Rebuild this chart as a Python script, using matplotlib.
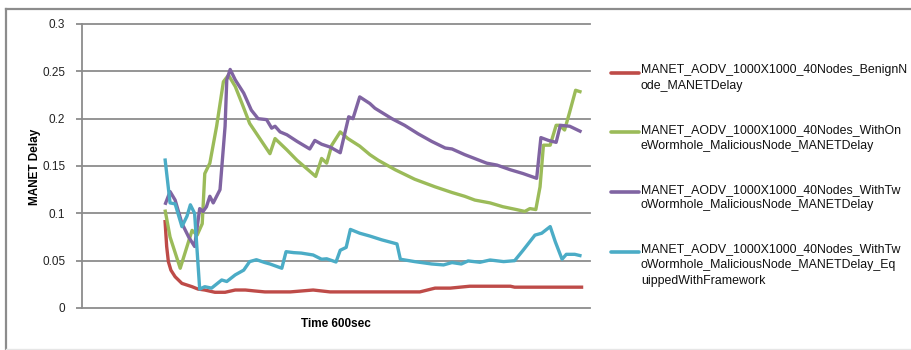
import matplotlib
matplotlib.use('Agg')
import matplotlib.pyplot as plt
from matplotlib.lines import Line2D

plt.rcParams['font.family'] = ['Liberation Sans', 'DejaVu Sans']

# simulation time (sec) and end-to-end delay for each scenario
t_benign = [98, 100, 102, 105, 110, 118, 130, 137, 145, 157, 169, 181, 193, 204, 216,
            246, 273, 293, 328, 376, 399, 417, 435, 458, 494, 506, 511, 529, 592]
d_benign = [0.093, 0.065, 0.049, 0.040, 0.033, 0.026, 0.0225, 0.020, 0.019, 0.0166, 0.0166,
            0.019, 0.019, 0.018, 0.017, 0.017, 0.019, 0.017, 0.017, 0.017, 0.017, 0.021,
            0.021, 0.023, 0.023, 0.023, 0.022, 0.022, 0.022]

t_one = [98, 104, 116, 130, 136, 142, 145, 151, 159, 167, 173, 181, 189, 198, 216, 222,
         228, 242, 254, 267, 276, 283, 289, 295, 305, 314, 328, 340, 350, 370, 393, 417,
         437, 452, 464, 482, 497, 513, 523, 529, 536, 541, 545, 553, 560, 564, 570, 576,
         583, 590]
d_one = [0.104, 0.075, 0.042, 0.082, 0.077, 0.089, 0.142, 0.153, 0.192, 0.239, 0.246,
         0.234, 0.216, 0.195, 0.171, 0.163, 0.179, 0.167, 0.156, 0.146, 0.139, 0.158,
         0.153, 0.172, 0.186, 0.179, 0.171, 0.162, 0.156, 0.146, 0.136, 0.128, 0.122,
         0.118, 0.114, 0.111, 0.107, 0.104, 0.102, 0.105, 0.104, 0.128, 0.172, 0.172,
         0.193, 0.193, 0.188, 0.207, 0.230, 0.228]

t_two = [98, 104, 110, 118, 126, 133, 139, 143, 147, 151, 155, 163, 169, 171, 175, 181,
         191, 200, 208, 218, 224, 228, 234, 242, 254, 269, 275, 283, 293, 305, 315, 320,
         328, 340, 346, 366, 381, 397, 413, 429, 437, 452, 478, 490, 506, 521, 537, 542,
         551, 560, 565, 576, 590]
d_two = [0.109, 0.123, 0.114, 0.0895, 0.075, 0.065, 0.105, 0.102, 0.107, 0.118, 0.111,
         0.125, 0.192, 0.241, 0.252, 0.241, 0.227, 0.209, 0.200, 0.199, 0.190, 0.192,
         0.186, 0.183, 0.176, 0.168, 0.177, 0.173, 0.170, 0.164, 0.202, 0.200, 0.223,
         0.216, 0.211, 0.200, 0.193, 0.184, 0.176, 0.169, 0.168, 0.162, 0.153, 0.151,
         0.146, 0.142, 0.137, 0.180, 0.177, 0.175, 0.193, 0.192, 0.186]

t_frame = [98, 104, 110, 118, 124, 128, 133, 139, 145, 153, 165, 171, 181, 191, 198, 206,
           216, 222, 236, 241, 250, 259, 273, 283, 289, 300, 305, 312, 317, 328, 340, 354,
           372, 376, 393, 413, 427, 437, 448, 456, 470, 482, 498, 511, 521, 535, 543, 553,
           559, 567, 572, 582, 590]
d_frame = [0.158, 0.111, 0.110, 0.086, 0.097, 0.109, 0.100, 0.020, 0.0225, 0.021, 0.0296,
           0.028, 0.035, 0.040, 0.049, 0.051, 0.048, 0.0465, 0.042, 0.0595, 0.0585, 0.058,
           0.056, 0.0515, 0.052, 0.0486, 0.061, 0.064, 0.083, 0.079, 0.076, 0.072, 0.0677,
           0.0515, 0.049, 0.0465, 0.0455, 0.048, 0.0465, 0.0497, 0.0483, 0.0507, 0.049,
           0.050, 0.061, 0.077, 0.079, 0.086, 0.070, 0.0515, 0.0567, 0.0567, 0.055]

labels = ['MANET_AODV_1000X1000_40Nodes_BenignN\node_MANETDelay',
          'MANET_AODV_1000X1000_40Nodes_WithOn\neWormhole_MaliciousNode_MANETDelay',
          'MANET_AODV_1000X1000_40Nodes_WithTw\noWormhole_MaliciousNode_MANETDelay',
          'MANET_AODV_1000X1000_40Nodes_WithTw\noWormhole_MaliciousNode_MANETDelay_Eq\nuippedWithFramework']
colors = ['#BE4B48', '#9BBB59', '#8064A2', '#4BACC6']
yticks = [0, 0.05, 0.1, 0.15, 0.2, 0.25, 0.3]

W, H = 912, 350
fig = plt.figure(figsize=(W / 100, H / 100), dpi=100)
ax = fig.add_axes([82 / W, 1 - 308 / H, (590 - 82) / W, (308 - 24) / H])

series = [(t_benign, d_benign), (t_one, d_one), (t_two, d_two), (t_frame, d_frame)]
for (t, d), c in zip(series, colors):
    ax.plot(t, d, color=c, lw=2.4, solid_joinstyle='round', solid_capstyle='butt', zorder=3)

ax.set_xlim(0, 600)
ax.set_ylim(0, 0.3)
ax.set_yticks(yticks)
ax.set_yticklabels(['0', '0.05', '0.1', '0.15', '0.2', '0.25', '0.3'])
ax.set_xticks([])
for y in yticks:
    ax.axhline(y, color='#8c8c8c', lw=1.3, zorder=1, clip_on=False)
for s in ['top', 'right', 'bottom']:
    ax.spines[s].set_visible(False)
ax.spines['left'].set_color('#8c8c8c')
ax.spines['left'].set_linewidth(1.3)
ax.tick_params(axis='y', length=4, width=1.3, color='#8c8c8c', pad=8,
               labelsize=8.5, labelcolor='#222222')

fig.text(336 / W, 1 - 324 / H, 'Time 600sec', ha='center', va='center',
         fontsize=8.5, fontweight='bold')
fig.text(35 / W, 1 - 167 / H, 'MANET Delay', ha='center', va='center',
         rotation=90, fontsize=8.5, fontweight='bold')

# legend drawn by hand so the swatch sits on the first text line
for i, (lab, c) in enumerate(zip(labels, colors)):
    yc = 72.7 + i * 59.7
    fig.add_artist(Line2D([611 / W, 639 / W], [1 - yc / H] * 2, color=c, lw=2.6,
                          solid_capstyle='round'))
    fig.text(641 / W, 1 - (yc - 8.5) / H, lab, ha='left', va='top',
             fontsize=8.9, linespacing=1.42, color='#111111')

# chart frame
fig.add_artist(Line2D([6.5 / W, 1.0], [1 - 9 / H] * 2, color='#8c8c8c', lw=1.6))
fig.add_artist(Line2D([6.5 / W, 6.5 / W], [1 - 9 / H, 0], color='#8c8c8c', lw=1.6))
fig.add_artist(Line2D([6.5 / W, 1.0], [1 - 349 / H] * 2, color='#e6e6e6', lw=1.0))

fig.savefig('out.png', dpi=100)
